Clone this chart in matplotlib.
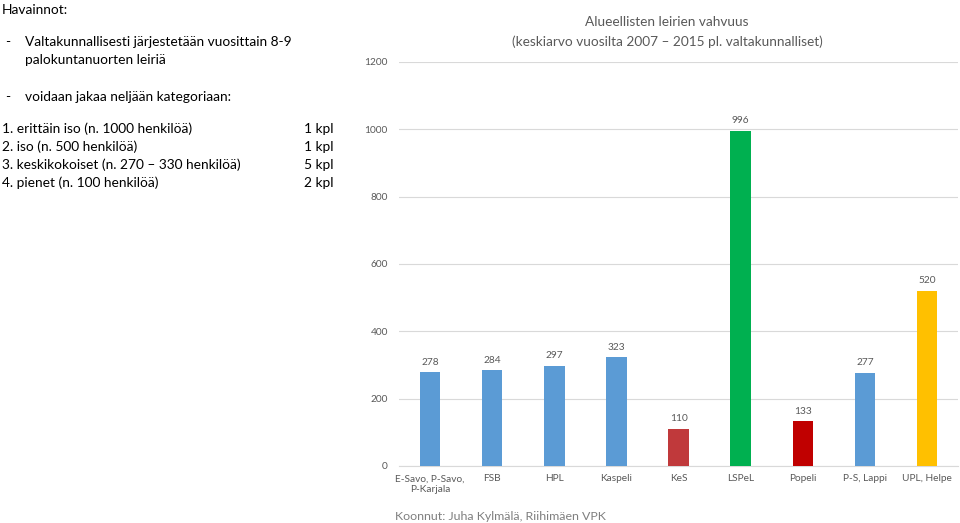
import matplotlib
matplotlib.use("Agg")
import matplotlib.pyplot as plt

plt.rcParams['font.family'] = ['Lato', 'DejaVu Sans']

# data
alueet = ["E-Savo, P-Savo,\nP-Karjala", "FSB", "HPL", "Kaspeli", "KeS",
          "LSPeL", "Popeli", "P-S, Lappi", "UPL, Helpe"]
vahvuus = [278, 284, 297, 323, 110, 996, 133, 277, 520]
varit = ["#5B9BD5", "#5B9BD5", "#5B9BD5", "#5B9BD5", "#C0393B",
         "#00B050", "#C00000", "#5B9BD5", "#FFC000"]
y_ticks = [0, 200, 400, 600, 800, 1000, 1200]

kategoriat = ["1. erittäin iso (n. 1000 henkilöä)", "2. iso (n. 500 henkilöä)",
              "3. keskikokoiset (n. 270 \u2013 330 henkilöä)", "4. pienet (n. 100 henkilöä)"]
kpl = ["1 kpl", "1 kpl", "5 kpl", "2 kpl"]

fig = plt.figure(figsize=(9.6, 5.23), dpi=100)
ax = fig.add_axes([0.4156, 0.109, 0.5824, 0.7725])

x = range(len(alueet))
bars = ax.bar(x, vahvuus, width=0.33, color=varit, zorder=3)
for b, v in zip(bars, vahvuus):
    ax.annotate(str(v), (b.get_x() + b.get_width() / 2, v), xytext=(0, 4),
                textcoords="offset points", ha="center", va="bottom",
                fontsize=7.3, color="#595959")

ax.set_xlim(-0.5, len(alueet) - 0.5)
ax.set_ylim(0, 1200)
ax.set_yticks(y_ticks)
ax.set_xticks(list(x))
ax.set_xticklabels(alueet, fontsize=7.3, color="#595959")
ax.tick_params(axis="y", labelsize=7.3, labelcolor="#595959", length=0, pad=8)
ax.tick_params(axis="x", length=0, pad=6)
ax.grid(axis="y", color="#D9D9D9", linewidth=0.8, zorder=0)
for s in ["top", "right", "left"]:
    ax.spines[s].set_visible(False)
ax.spines["bottom"].set_color("#D9D9D9")

# otsikko
fig.text(0.695, 0.957, "Alueellisten leirien vahvuus", ha="center", va="center",
         fontsize=9.8, color="#595959")
fig.text(0.695, 0.920, "(keskiarvo vuosilta 2007 \u2013 2015 pl. valtakunnalliset)",
         ha="center", va="center", fontsize=9.8, color="#595959")

# vasen teksti
fs = 9.9
fig.text(0.002, 0.981, "Havainnot:", ha="left", va="center", fontsize=fs)
fig.text(0.005, 0.920, "-", ha="left", va="center", fontsize=fs)
fig.text(0.026, 0.920, "Valtakunnallisesti järjestetään vuosittain 8-9",
         ha="left", va="center", fontsize=fs)
fig.text(0.026, 0.885, "palokuntanuorten leiriä", ha="left", va="center", fontsize=fs)
fig.text(0.005, 0.815, "-", ha="left", va="center", fontsize=fs)
fig.text(0.026, 0.815, "voidaan jakaa neljään kategoriaan:", ha="left", va="center", fontsize=fs)
for i, (k, n) in enumerate(zip(kategoriat, kpl)):
    yy = 1 - (129 + 18 * i) / 523
    fig.text(0.002, yy, k, ha="left", va="center", fontsize=fs)
    fig.text(0.317, yy, n, ha="left", va="center", fontsize=fs)

fig.text(0.411, 0.013, "Koonnut: Juha Kylmälä, Riihimäen VPK", ha="left", va="center",
         fontsize=8.9, color="#7F7F7F")

fig.savefig("out.png", dpi=100)
